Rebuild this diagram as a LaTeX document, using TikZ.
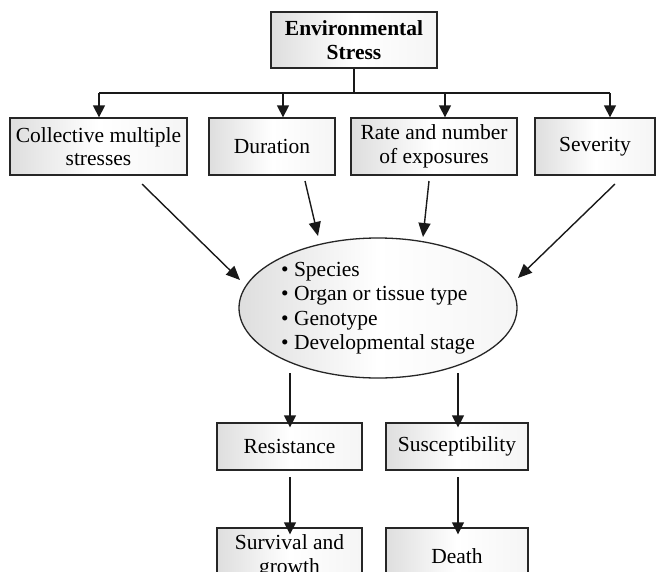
\documentclass[tikz,border=0pt]{standalone}
\usepackage{fontspec}
\setmainfont{Liberation Serif}
\usetikzlibrary{arrows.meta,shapes.geometric}
\begin{document}
\begin{tikzpicture}[x=1pt,y=-1pt,
  txt/.style={font=\fontsize{21.5}{23.5}\selectfont},
  box/.style={draw=black!85,line width=1.3pt,inner sep=0pt,align=center,
    left color=gray!26,right color=gray!8,middle color=white,txt},
  link/.style={line width=1.4pt,draw=black!90},
  arr/.style={link,-{Triangle[length=12pt,width=12pt]}},
  darr/.style={link,-{Triangle[length=14pt,width=12pt]}}]
\useasboundingbox (0,0) rectangle (656,571);
\clip (0,0) rectangle (656,571);

% top cause
\node[box,minimum width=166pt,minimum height=56pt,font=\fontsize{21.5}{23.5}\selectfont\bfseries]
  (env) at (354,40) {Environmental\\Stress};

% stress factors
\node[box,minimum width=177pt,minimum height=57pt] (c1) at (98.5,146.5) {Collective multiple\\stresses};
\node[box,minimum width=126pt,minimum height=57pt] (c2) at (272,146.5) {Duration};
\node[box,minimum width=166pt,minimum height=57pt] (c3) at (434,146.5) {Rate and number\\of exposures};
\node[box,minimum width=120pt,minimum height=57pt] (c4) at (595,146.5) {Severity};

% organism traits
\node[ellipse,draw=black!85,line width=1.3pt,inner sep=0pt,
  minimum width=278pt,minimum height=140pt,
  left color=gray!26,right color=gray!8,middle color=white,
  align=left,font=\fontsize{21.5}{24.5}\selectfont] (org) at (378,308)
  {\textbullet\ Species\\\textbullet\ Organ or tissue type\\\textbullet\ Genotype\\\textbullet\ Developmental stage};

% outcomes
\node[box,minimum width=145pt,minimum height=47pt] (res) at (289.5,446.5) {Resistance};
\node[box,minimum width=142pt,minimum height=47pt] (sus) at (457,446.5) {Susceptibility};
\node[box,minimum width=145pt,minimum height=57pt] (surv) at (289.5,556.5) {Survival and\\growth};
\node[box,minimum width=142pt,minimum height=57pt] (death) at (457,556.5) {Death};

% distribution bus
\coordinate (bus) at (354,93);
\coordinate (b1) at (99,93);
\coordinate (b2) at (283,93);
\coordinate (b3) at (445,93);
\coordinate (b4) at (610,93);
\draw[link] (env.south) -- (bus);
\draw[link] (b1) -- (b4);
\draw[arr] (b1) -- (b1 |- c1.north);
\draw[arr] (b2) -- (b2 |- c2.north);
\draw[arr] (b3) -- (b3 |- c3.north);
\draw[arr] (b4) -- (b4 |- c4.north);

% factors acting on the organism
\coordinate (s1) at (142,184); \coordinate (e1) at (240,280);
\coordinate (s2) at (305,181); \coordinate (e2) at (318,236);
\coordinate (s3) at (429,181); \coordinate (e3) at (423,237);
\coordinate (s4) at (615,184); \coordinate (e4) at (518,278);
\draw[darr] (s1) -- (e1);
\draw[darr] (s2) -- (e2);
\draw[darr] (s3) -- (e3);
\draw[darr] (s4) -- (e4);

% responses
\coordinate (o1) at (290,373); \coordinate (o2) at (458,373);
\coordinate (r1) at (290,477); \coordinate (r2) at (458,477);
\draw[arr] (o1) -- ([yshift=-5pt]o1 |- res.north);
\draw[arr] (o2) -- ([yshift=-5pt]o2 |- sus.north);
\draw[arr] (r1) -- ([yshift=-7pt]r1 |- surv.north);
\draw[arr] (r2) -- ([yshift=-7pt]r2 |- death.north);
\end{tikzpicture}
\end{document}
